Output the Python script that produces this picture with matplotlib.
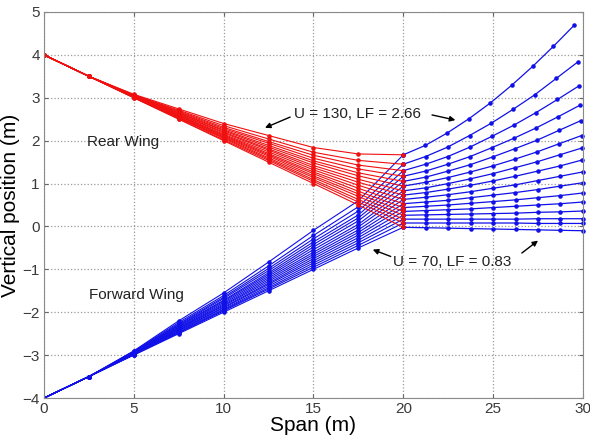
import numpy as np
import matplotlib
matplotlib.use("Agg")
import matplotlib.pyplot as plt

plt.rcParams['font.family'] = ['Liberation Sans', 'DejaVu Sans']

# spanwise stations of the inboard wings (m)
span_in = [0, 2.5, 5, 7.5, 10, 12.5, 15, 17.5, 20]

# rear wing, vertical position at each station, U = 130 ... U = 70
rear_y = [
    [4, 3.5, 3.08, 2.74, 2.40, 2.12, 1.84, 1.69, 1.67],
    [4, 3.5, 3.07, 2.71, 2.35, 2.04, 1.73, 1.54, 1.45],
    [4, 3.5, 3.06, 2.69, 2.31, 1.98, 1.66, 1.43, 1.30],
    [4, 3.5, 3.06, 2.67, 2.28, 1.94, 1.59, 1.34, 1.17],
    [4, 3.5, 3.05, 2.65, 2.25, 1.89, 1.53, 1.25, 1.05],
    [4, 3.5, 3.05, 2.64, 2.23, 1.85, 1.48, 1.18, 0.94],
    [4, 3.5, 3.04, 2.62, 2.20, 1.81, 1.42, 1.10, 0.83],
    [4, 3.5, 3.04, 2.61, 2.18, 1.78, 1.37, 1.03, 0.73],
    [4, 3.5, 3.03, 2.59, 2.15, 1.74, 1.32, 0.96, 0.63],
    [4, 3.5, 3.03, 2.58, 2.13, 1.70, 1.27, 0.89, 0.53],
    [4, 3.5, 3.02, 2.57, 2.11, 1.67, 1.23, 0.82, 0.44],
    [4, 3.5, 3.02, 2.55, 2.09, 1.64, 1.18, 0.76, 0.35],
    [4, 3.5, 3.01, 2.54, 2.07, 1.60, 1.14, 0.70, 0.26],
    [4, 3.5, 3.01, 2.53, 2.05, 1.57, 1.09, 0.63, 0.17],
    [4, 3.5, 3.00, 2.51, 2.02, 1.54, 1.05, 0.57, 0.08],
    [4, 3.5, 3.00, 2.50, 2.00, 1.50, 1.00, 0.50, -0.02],
]

# forward wing, inboard part
fwd_y = [
    [-4, -3.5, -2.90, -2.20, -1.55, -0.83, -0.09, 0.60, 1.67],
    [-4, -3.5, -2.91, -2.24, -1.61, -0.92, -0.21, 0.46, 1.45],
    [-4, -3.5, -2.92, -2.27, -1.65, -0.98, -0.29, 0.36, 1.30],
    [-4, -3.5, -2.93, -2.29, -1.68, -1.03, -0.36, 0.27, 1.17],
    [-4, -3.5, -2.94, -2.31, -1.72, -1.08, -0.42, 0.20, 1.05],
    [-4, -3.5, -2.94, -2.33, -1.74, -1.12, -0.48, 0.13, 0.94],
    [-4, -3.5, -2.95, -2.35, -1.77, -1.16, -0.54, 0.05, 0.83],
    [-4, -3.5, -2.96, -2.37, -1.80, -1.20, -0.60, -0.01, 0.73],
    [-4, -3.5, -2.96, -2.38, -1.83, -1.24, -0.65, -0.08, 0.63],
    [-4, -3.5, -2.97, -2.40, -1.85, -1.28, -0.70, -0.14, 0.53],
    [-4, -3.5, -2.97, -2.42, -1.88, -1.32, -0.75, -0.20, 0.44],
    [-4, -3.5, -2.98, -2.43, -1.90, -1.35, -0.80, -0.26, 0.35],
    [-4, -3.5, -2.98, -2.45, -1.93, -1.39, -0.85, -0.32, 0.26],
    [-4, -3.5, -2.99, -2.47, -1.95, -1.43, -0.90, -0.38, 0.17],
    [-4, -3.5, -2.99, -2.48, -1.97, -1.46, -0.95, -0.44, 0.08],
    [-4, -3.5, -3.00, -2.50, -2.00, -1.50, -1.00, -0.50, -0.02],
]

# forward wing, outboard part beyond the joint
out_x = [
    [20, 21.23, 22.45, 23.65, 24.85, 26.03, 27.20, 28.36, 29.51],
    [20, 21.24, 22.47, 23.69, 24.91, 26.11, 27.32, 28.51, 29.70],
    [20, 21.24, 22.48, 23.71, 24.93, 26.15, 27.37, 28.58, 29.79],
    [20, 21.24, 22.48, 23.72, 24.95, 26.18, 27.41, 28.63, 29.85],
    [20, 21.25, 22.49, 23.73, 24.97, 26.20, 27.44, 28.67, 29.90],
    [20, 21.25, 22.49, 23.74, 24.98, 26.22, 27.46, 28.69, 29.93],
    [20, 21.25, 22.50, 23.74, 24.98, 26.23, 27.47, 28.71, 29.95],
    [20, 21.25, 22.50, 23.74, 24.99, 26.23, 27.48, 28.72, 29.96],
    [20, 21.25, 22.50, 23.75, 24.99, 26.24, 27.49, 28.73, 29.98],
    [20, 21.25, 22.50, 23.75, 25.00, 26.24, 27.49, 28.74, 29.99],
    [20, 21.25, 22.50, 23.75, 25.00, 26.25, 27.50, 28.75, 29.99],
    [20, 21.25, 22.50, 23.75, 25.00, 26.25, 27.50, 28.75, 30.00],
    [20, 21.25, 22.50, 23.75, 25.00, 26.25, 27.50, 28.75, 30.00],
    [20, 21.25, 22.50, 23.75, 25.00, 26.25, 27.50, 28.75, 30.00],
    [20, 21.25, 22.50, 23.75, 25.00, 26.25, 27.50, 28.75, 30.00],
    [20, 21.25, 22.50, 23.75, 25.00, 26.25, 27.50, 28.75, 30.00],
]
out_y = [
    [1.67, 1.89, 2.18, 2.51, 2.88, 3.29, 3.73, 4.20, 4.69],
    [1.45, 1.63, 1.85, 2.12, 2.41, 2.73, 3.07, 3.45, 3.83],
    [1.30, 1.45, 1.63, 1.85, 2.10, 2.36, 2.65, 2.96, 3.28],
    [1.17, 1.29, 1.45, 1.63, 1.84, 2.06, 2.30, 2.56, 2.83],
    [1.05, 1.15, 1.29, 1.44, 1.62, 1.81, 2.01, 2.24, 2.47],
    [0.94, 1.03, 1.14, 1.27, 1.41, 1.57, 1.74, 1.93, 2.12],
    [0.83, 0.90, 1.00, 1.11, 1.23, 1.37, 1.51, 1.67, 1.83],
    [0.73, 0.79, 0.87, 0.96, 1.06, 1.17, 1.29, 1.41, 1.55],
    [0.63, 0.68, 0.74, 0.81, 0.89, 0.97, 1.07, 1.17, 1.27],
    [0.53, 0.57, 0.61, 0.67, 0.73, 0.79, 0.86, 0.94, 1.02],
    [0.44, 0.47, 0.50, 0.54, 0.58, 0.62, 0.67, 0.72, 0.78],
    [0.35, 0.37, 0.39, 0.41, 0.44, 0.47, 0.50, 0.53, 0.57],
    [0.26, 0.27, 0.28, 0.29, 0.30, 0.31, 0.33, 0.34, 0.36],
    [0.17, 0.17, 0.17, 0.17, 0.17, 0.17, 0.18, 0.18, 0.18],
    [0.08, 0.08, 0.08, 0.08, 0.08, 0.08, 0.07, 0.07, 0.07],
    [-0.02, -0.03, -0.04, -0.05, -0.06, -0.07, -0.08, -0.09, -0.10],
]


fig = plt.figure(figsize=(5.9, 4.41), dpi=100)
ax = fig.add_axes([0.0746, 0.0975, 0.9134, 0.8753])

for xs, ys in zip(out_x, out_y):
    ax.plot(xs, ys, color='#1010e8', lw=0.9, marker='.', ms=4.5, clip_on=False)
for ys in fwd_y:
    ax.plot(span_in, ys, color='#1010e8', lw=0.8, marker='.', ms=4.5)
for ys in rear_y:
    ax.plot(span_in, ys, color='#f01010', lw=0.8, marker='.', ms=4.5)

ax.set_xlim(0, 30)
ax.set_ylim(-4, 5)
ax.set_xticks([0, 5, 10, 15, 20, 25, 30])
ax.set_yticks([-4, -3, -2, -1, 0, 1, 2, 3, 4, 5])
ax.grid(True, color='#9a9a9a', ls=':', lw=0.9)
ax.set_axisbelow(True)
ax.tick_params(direction='in', length=3, top=True, right=True,
               labelsize=11, labelcolor='#3a3a3a', color='#666666', pad=3)
for sp in ax.spines.values():
    sp.set_color('#8a8a8a')

ax.set_xlabel('Span (m)', fontsize=15, labelpad=0)
ax.set_ylabel('Vertical position (m)', fontsize=15, labelpad=2)

ax.text(2.4, 1.96, 'Rear Wing', fontsize=11, va='center', color='#222222')
ax.text(2.5, -1.6, 'Forward Wing', fontsize=11, va='center', color='#222222')

arr = dict(arrowstyle='-|>', color='k', lw=1.0, mutation_scale=8, shrinkA=0, shrinkB=0)
ax.text(13.9, 2.62, 'U = 130, LF = 2.66', fontsize=11, va='center', color='#222222')
ax.annotate('', xy=(12.3, 2.3), xytext=(13.7, 2.55), arrowprops=arr)
ax.annotate('', xy=(22.9, 2.48), xytext=(21.6, 2.6), arrowprops=arr)

ax.text(19.4, -0.84, 'U = 70, LF = 0.83', fontsize=11, va='center', color='#222222')
ax.annotate('', xy=(18.3, -0.54), xytext=(19.3, -0.7), arrowprops=arr)
ax.annotate('', xy=(27.5, -0.33), xytext=(26.6, -0.62), arrowprops=arr)

fig.savefig('out.png', dpi=100)
